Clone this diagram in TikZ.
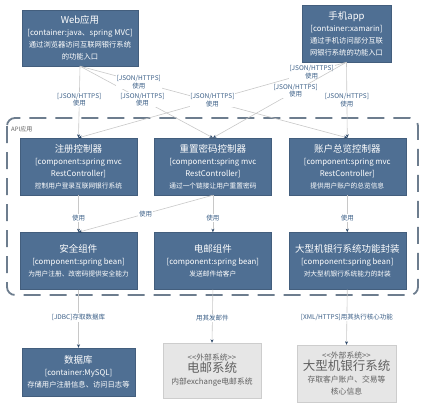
\documentclass[tikz,border=0pt]{standalone}
\usepackage{fontspec}
\setmainfont{Noto Sans CJK SC}
\usetikzlibrary{arrows.meta,positioning}

\definecolor{compblue}{HTML}{4F6F93}
\definecolor{linegray}{HTML}{C8C8C8}
\definecolor{tipblue}{HTML}{2E4A6B}
\definecolor{lblblue}{HTML}{3C6088}
\definecolor{extfill}{HTML}{E6E6E6}
\definecolor{extdraw}{HTML}{CDCDCD}
\definecolor{exttext}{HTML}{606060}
\definecolor{bndgray}{HTML}{6D7D8E}

\newcommand{\boxtitle}{\fontsize{9.5}{11.5}\selectfont}
\newcommand{\boxtype}{\fontsize{7.8}{9.5}\selectfont}
\newcommand{\boxdesc}{\fontsize{6.7}{9.5}\selectfont}
\newcommand{\contdesc}{\fontsize{7.3}{10}\selectfont}
\newcommand{\exttitle}{\fontsize{12.5}{15}\selectfont}
\newcommand{\extdesc}{\fontsize{7.8}{10}\selectfont}

\begin{document}
\begin{tikzpicture}[
    x=1pt, y=-1pt,
    node distance=37pt and 17pt,
    component/.style={rectangle, draw=compblue!85!black, fill=compblue, text=white, align=center, minimum width=117pt, minimum height=57pt, inner sep=2pt},
    extsys/.style={rectangle, draw=extdraw, fill=extfill, text=exttext, align=center, inner sep=2pt},
    link/.style={draw=linegray, line width=0.6pt, -{Stealth[length=3.5pt, width=3pt, color=tipblue]}},
    lbl/.style={fill=white, text=lblblue, inner sep=0.8pt, align=center, font=\fontsize{6.5}{7.5}\selectfont},
    boundary/.style={draw=bndgray, line width=1.8pt, dash pattern=on 17pt off 9pt, rounded corners=8pt}
]
\useasboundingbox (0,0) rectangle (432,416);

% API boundary
\draw[boundary] (7,118) rectangle (418,295);
\node[anchor=west, text=exttext, inner sep=0pt, font=\fontsize{6}{7}\selectfont] (api) at (11,129) {API应用};

% Containers
\node[component, minimum width=116pt, minimum height=56pt] (web) at (80,38)
    {\boxtitle Web应用\\\boxtype [container:java、spring MVC]\\\contdesc 通过浏览器访问互联网银行系统\\\contdesc 的功能入口};
\node[component, minimum width=89pt] (app) at (346.5,33.5)
    {\boxtitle 手机app\\\boxtype [container:xamarin]\\\contdesc 通过手机访问部分互联\\\contdesc 网银行系统的功能入口};

% Controllers
\node[component] (reg) at (78.5,166.5)
    {\boxtitle 注册控制器\\\boxtype [component:spring mvc\\\boxtype RestController]\\\boxdesc 控制用户登录互联网银行系统};
\node[component, right=of reg] (reset)
    {\boxtitle 重置密码控制器\\\boxtype [component:spring mvc\\\boxtype RestController]\\\boxdesc 通过一个链接让用户重置密码};
\node[component, right=of reset] (acct)
    {\boxtitle 账户总览控制器\\\boxtype [component:spring mvc\\\boxtype RestController]\\\boxdesc 提供用户账户的总览信息};

% Beans
\node[component, below=of reg] (sec)
    {\boxtitle 安全组件\\\boxtype [component:spring bean]\\\boxdesc 为用户注册、改密码提供安全能力};
\node[component, below=of reset] (mail)
    {\boxtitle 电邮组件\\\boxtype [component:spring bean]\\\boxdesc 发送邮件给客户};
\node[component, below=of acct] (wrap)
    {\boxtitle 大型机银行系统功能封装\\\boxtype [component:spring bean]\\\boxdesc 对大型机银行系统能力的封装};

% Database and external systems
\node[component, minimum width=113pt, minimum height=48pt] (db) at (78.5,372)
    {\boxtitle 数据库\\\boxtype [container:MySQL]\\\contdesc 存储用户注册信息、访问日志等};
\node[extsys, minimum width=98pt, minimum height=55pt] (mailsys) at (212,370.5)
    {\extdesc <{}<外部系统>{}>\\\exttitle 电邮系统\\\extdesc 内部exchange电邮系统};
\node[extsys, minimum width=99pt, minimum height=57pt] (mainframe) at (346.5,373.5)
    {\extdesc <{}<外部系统>{}>\\\exttitle 大型机银行系统\\\extdesc 存取客户账户、交易等\\\extdesc 核心信息};

% Calls from the apps
\draw[link] (web.south) -- node[lbl, pos=0.47] {[JSON/HTTPS]\\使用} (reg.north);
\draw[link] (web.south) -- node[lbl, pos=0.47] {[JSON/HTTPS]\\使用} (reset.north);
\draw[link] (web.south) -- node[lbl, pos=0.22] {[JSON/HTTPS]\\使用} (acct.north);
\draw[link] (app.south) -- node[lbl, pos=0.13] {[JSON/HTTPS]\\使用} node[lbl, pos=0.5] {[JSON/HTTPS]\\使用} (reg.north);
\draw[link] (app.south) -- node[lbl, pos=0.38] {[JSON/HTTPS]\\使用} (reset.north);
\draw[link] (app.south) -- node[lbl, pos=0.5] {[JSON/HTTPS]\\使用} (acct.north);

% Controllers to beans
\draw[link] (reg) -- node[lbl, pos=0.62] {使用} (sec);
\draw[link] (reset.south) -- node[lbl, pos=0.5] {使用} (sec.north);
\draw[link] (reset) -- node[lbl, pos=0.62] {使用} (mail);
\draw[link] (acct) -- node[lbl, pos=0.62] {使用} (wrap);

% Beans to outside
\draw[link] (sec) -- node[lbl, pos=0.48] {[JDBC]存取数据库} (db);
\draw[link] (mail.south) -- node[lbl, pos=0.53] {用其发邮件} (mailsys.north);
\draw[link] (wrap.south) -- node[lbl, pos=0.5] {[XML/HTTPS]用其执行核心功能} (mainframe.north);

\end{tikzpicture}
\end{document}
